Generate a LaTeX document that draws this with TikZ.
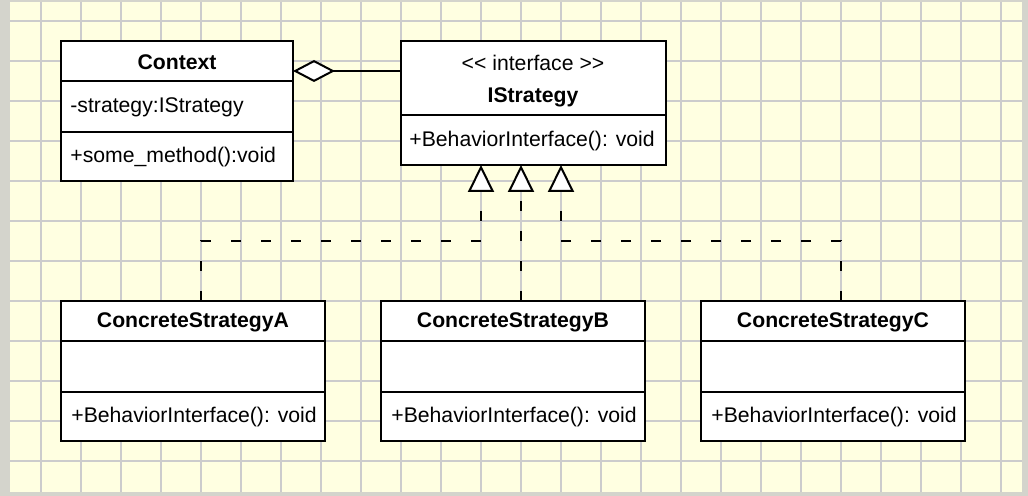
\documentclass[tikz,border=0pt]{standalone}
\usepackage{fontspec}
\setmainfont{Liberation Sans}
\usetikzlibrary{shapes,arrows.meta,calc}
\definecolor{bordgris}{RGB}{212,212,204}
\definecolor{fondjaune}{RGB}{255,255,225}
\definecolor{grille}{RGB}{204,204,204}
\begin{document}
\begin{tikzpicture}[x=0.5pt,y=-0.5pt]
 % style du fond
  \tikzstyle{ligne}=[grille,line width=1pt]
 % style des noeuds
  \tikzstyle{classe}=[rectangle,draw,fill=white,line width=1pt,inner sep=0pt,outer sep=0pt]
  \tikzstyle{titre}=[font=\fontsize{10.6pt}{13pt}\selectfont\bfseries,inner sep=0pt]
  \tikzstyle{stereo}=[font=\fontsize{10.6pt}{13pt}\selectfont,inner sep=0pt]
  \tikzstyle{membre}=[font=\fontsize{10.6pt}{13pt}\selectfont,inner sep=0pt,anchor=west]
  \tikzstyle{trait}=[line width=1pt]
 % style des fleches
  \tikzstyle{agreg}=[line width=1pt,-{Diamond[length=21pt,width=11pt,fill=white]}]
  \tikzstyle{realise}=[line width=1pt,dash pattern=on 5pt off 10pt,-{Triangle[length=13.5pt,width=13pt,fill=white]}]
 % fond quadrille
  \useasboundingbox (0,0) rectangle (1028,496);
  \fill[bordgris] (0,0) rectangle (1028,496);
  \fill[fondjaune] (10,2) rectangle (1022,492);
  \foreach \x in {41,81,...,1001} \draw[ligne] (\x,2) -- (\x,492);
  \foreach \y in {21,61,...,461} \draw[ligne] (10,\y) -- (1022,\y);
 % placement des noeuds
  \node[classe,minimum width=116pt,minimum height=70pt] (ctx) at (177,111) {};
  \node[classe,minimum width=132.5pt,minimum height=62pt] (istrat) at (533.5,103) {};
  \node[classe,minimum width=132pt,minimum height=70pt] (csA) at (193,371) {};
  \node[classe,minimum width=132pt,minimum height=70pt] (csB) at (513,371) {};
  \node[classe,minimum width=132pt,minimum height=70pt] (csC) at (833,371) {};
 % compartiments
  \draw[trait] (ctx.west |- 0,81) -- (ctx.east |- 0,81);
  \draw[trait] (ctx.west |- 0,132) -- (ctx.east |- 0,132);
  \draw[trait] (istrat.west |- 0,115) -- (istrat.east |- 0,115);
  \draw[trait] (csA.west |- 0,341) -- (csA.east |- 0,341);
  \draw[trait] (csA.west |- 0,392) -- (csA.east |- 0,392);
  \draw[trait] (csB.west |- 0,341) -- (csB.east |- 0,341);
  \draw[trait] (csB.west |- 0,392) -- (csB.east |- 0,392);
  \draw[trait] (csC.west |- 0,341) -- (csC.east |- 0,341);
  \draw[trait] (csC.west |- 0,392) -- (csC.east |- 0,392);
 % textes
  \node[titre] (ctxnom) at (177,62) {Context};
  \node[membre] (ctxattr) at (70,107) {-strategy:IStrategy};
  \node[membre] (ctxop) at (70,157) {+some\_method():void};
  \node[stereo] (istratst) at (533,63) {<\kern0pt< interface >\kern0pt>};
  \node[titre] (istratnom) at (533,97) {IStrategy};
  \node[membre] (istratop) at (409,141) {+BehaviorInterface(): void};
  \node[titre] (csAnom) at (193,322) {ConcreteStrategyA};
  \node[membre] (csAop) at (71,417) {+BehaviorInterface(): void};
  \node[titre] (csBnom) at (513,322) {ConcreteStrategyB};
  \node[membre] (csBop) at (391,417) {+BehaviorInterface(): void};
  \node[titre] (csCnom) at (833,322) {ConcreteStrategyC};
  \node[membre] (csCop) at (711,417) {+BehaviorInterface(): void};
 % placement des fleches
  \draw[agreg] ($(istrat.north west)+(0,30)$) -- ($(ctx.north east)+(0,30)$);
  \draw[realise] ($(csA.north)+(8,0)$) -- ++(0,-60) -| ($(istrat.south west)+(80,0)$);
  \draw[realise] ($(csB.north)+(8,0)$) -- ($(istrat.south west)+(120,0)$);
  \draw[realise] ($(csC.north)+(8,0)$) -- ++(0,-60) -| ($(istrat.south west)+(160,0)$);
\end{tikzpicture}
\end{document}
